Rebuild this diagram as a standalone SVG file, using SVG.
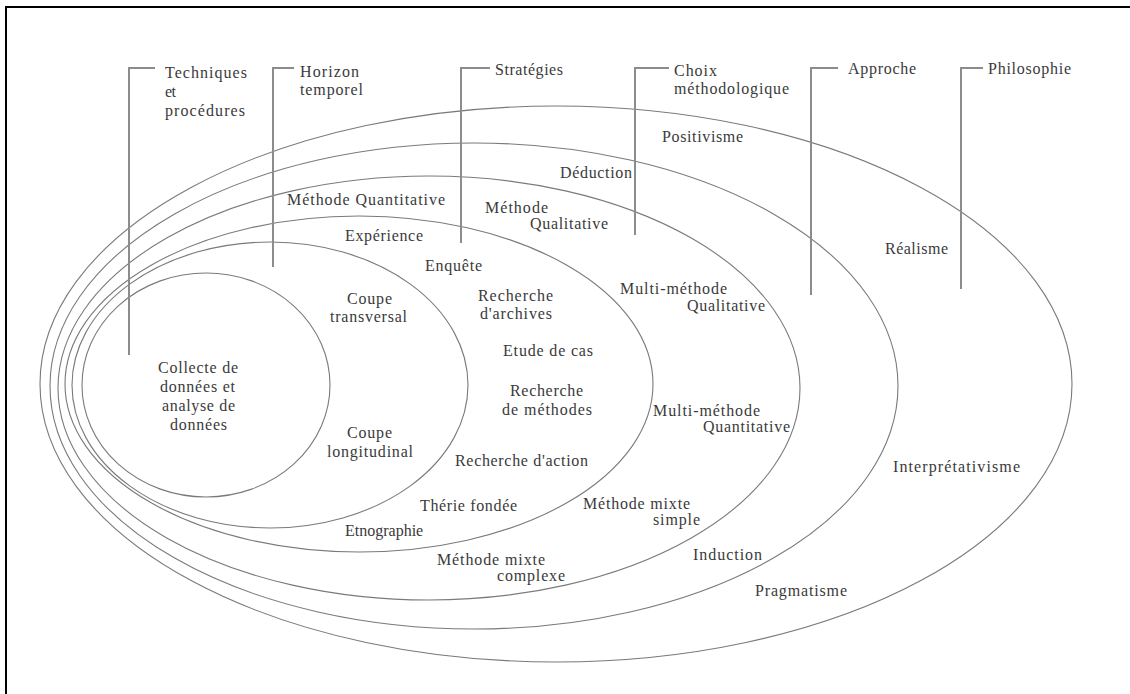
<svg xmlns="http://www.w3.org/2000/svg" width="1130" height="694" viewBox="0 0 1130 694">
<style>
.ring{fill:none;stroke:#7a7a7a;stroke-width:1.1}
.lead{fill:none;stroke:#8c8c8c;stroke-width:2}
text{font-family:"Liberation Serif","Times New Roman","DejaVu Serif",serif;font-size:16px;fill:#3a3a3a}
</style>
<rect x="0" y="0" width="1130" height="694" fill="#ffffff"/>
<path d="M6,694 V7 H1130" fill="none" stroke="#000" stroke-width="2"/>

<g id="layer-philosophie">
<ellipse class="ring" cx="556" cy="384" rx="516" ry="278"/>
<text x="662" y="142" textLength="81" lengthAdjust="spacing">Positivisme</text>
<text x="885" y="254" textLength="63" lengthAdjust="spacing">Réalisme</text>
<text x="893" y="472" textLength="127" lengthAdjust="spacing">Interprétativisme</text>
<text x="755" y="596" textLength="92" lengthAdjust="spacing">Pragmatisme</text>
</g>

<g id="layer-approche">
<ellipse class="ring" cx="474" cy="386" rx="424" ry="243"/>
<text x="560" y="178" textLength="72" lengthAdjust="spacing">Déduction</text>
<text x="693" y="560" textLength="69" lengthAdjust="spacing">Induction</text>
</g>

<g id="layer-choix">
<ellipse class="ring" cx="429" cy="388" rx="371" ry="212"/>
<text x="287" y="205" textLength="158" lengthAdjust="spacing">Méthode Quantitative</text>
<text x="485" y="213" textLength="63" lengthAdjust="spacing">Méthode</text>
<text x="530" y="229" textLength="78" lengthAdjust="spacing">Qualitative</text>
<text x="620" y="294" textLength="107" lengthAdjust="spacing">Multi-méthode</text>
<text x="687" y="311" textLength="78" lengthAdjust="spacing">Qualitative</text>
<text x="653" y="416" textLength="107" lengthAdjust="spacing">Multi-méthode</text>
<text x="703" y="432" textLength="87" lengthAdjust="spacing">Quantitative</text>
<text x="583" y="509" textLength="107" lengthAdjust="spacing">Méthode mixte</text>
<text x="653" y="525" textLength="47" lengthAdjust="spacing">simple</text>
<text x="437" y="565" textLength="108" lengthAdjust="spacing">Méthode mixte</text>
<text x="497" y="581" textLength="68" lengthAdjust="spacing">complexe</text>
</g>

<g id="layer-strategies">
<ellipse class="ring" cx="359" cy="384" rx="294" ry="168"/>
<text x="345" y="241" textLength="78" lengthAdjust="spacing">Expérience</text>
<text x="425" y="271" textLength="57" lengthAdjust="spacing">Enquête</text>
<text x="478" y="301" textLength="75" lengthAdjust="spacing">Recherche</text>
<text x="480" y="319" textLength="72" lengthAdjust="spacing">d'archives</text>
<text x="503" y="356" textLength="90" lengthAdjust="spacing">Etude de cas</text>
<text x="510" y="396" textLength="73" lengthAdjust="spacing">Recherche</text>
<text x="502" y="415" textLength="90" lengthAdjust="spacing">de méthodes</text>
<text x="455" y="466" textLength="133" lengthAdjust="spacing">Recherche d'action</text>
<text x="420" y="511" textLength="97" lengthAdjust="spacing">Thérie fondée</text>
<text x="345" y="536">Etnographie</text>
</g>

<g id="layer-horizon">
<ellipse class="ring" cx="270" cy="385" rx="198" ry="143"/>
<text x="347" y="304" textLength="45" lengthAdjust="spacing">Coupe</text>
<text x="330" y="322" textLength="77" lengthAdjust="spacing">transversal</text>
<text x="347" y="438" textLength="45" lengthAdjust="spacing">Coupe</text>
<text x="327" y="457" textLength="86" lengthAdjust="spacing">longitudinal</text>
</g>

<g id="layer-techniques">
<ellipse class="ring" cx="206" cy="385" rx="124" ry="112"/>
<text x="158" y="373" textLength="80" lengthAdjust="spacing">Collecte de</text>
<text x="160" y="392" textLength="75" lengthAdjust="spacing">données et</text>
<text x="162" y="411" textLength="73" lengthAdjust="spacing">analyse de</text>
<text x="170" y="430" textLength="57" lengthAdjust="spacing">données</text>
</g>

<g id="connectors">
<path class="lead" d="M155,68 H129 V355"/>
<path class="lead" d="M294,68 H273 V267"/>
<path class="lead" d="M490,68 H461 V243"/>
<path class="lead" d="M669,68 H635 V235"/>
<path class="lead" d="M838,68 H811 V295"/>
<path class="lead" d="M983,68 H961 V289"/>
</g>

<g id="headers">
<text x="165" y="78" textLength="82" lengthAdjust="spacing">Techniques</text>
<text x="165" y="97" textLength="11" lengthAdjust="spacing">et</text>
<text x="165" y="116" textLength="80" lengthAdjust="spacing">procédures</text>
<text x="300" y="77" textLength="59" lengthAdjust="spacing">Horizon</text>
<text x="300" y="95" textLength="63" lengthAdjust="spacing">temporel</text>
<text x="495" y="75" textLength="68" lengthAdjust="spacing">Stratégies</text>
<text x="674" y="76" textLength="43" lengthAdjust="spacing">Choix</text>
<text x="674" y="94" textLength="115" lengthAdjust="spacing">méthodologique</text>
<text x="848" y="74" textLength="68" lengthAdjust="spacing">Approche</text>
<text x="988" y="74" textLength="83" lengthAdjust="spacing">Philosophie</text>
</g>
</svg>
